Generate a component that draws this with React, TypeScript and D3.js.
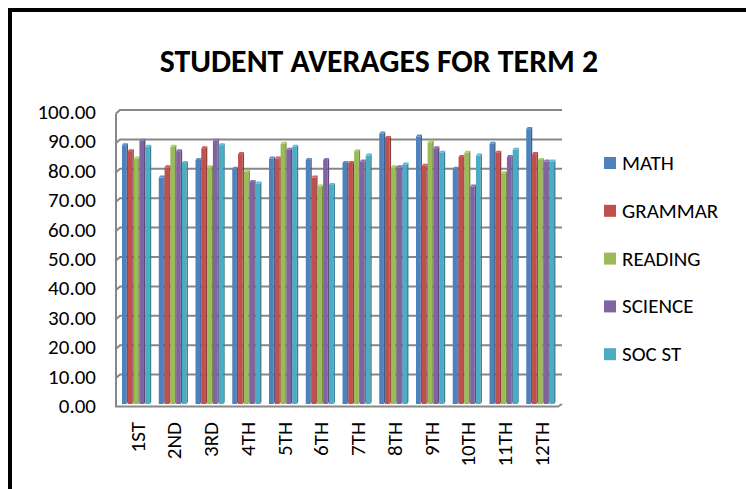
import * as d3 from 'd3'
import { useEffect, useRef } from 'react'

const categories = ['1ST', '2ND', '3RD', '4TH', '5TH', '6TH', '7TH', '8TH', '9TH', '10TH', '11TH', '12TH']
const series = ['MATH', 'GRAMMAR', 'READING', 'SCIENCE', 'SOC ST']
const colors = ['#4F81BD', '#C0504D', '#9BBB59', '#8064A2', '#4BACC6']

const math = [88, 77, 83, 80, 83.5, 83, 82, 92, 91, 80, 88.5, 93.5]
const grammar = [86, 80.5, 87, 85, 83.5, 77, 82, 90.5, 81, 84, 85.5, 85]
const reading = [83.5, 87.5, 80.5, 79, 88.5, 74, 86, 80.5, 89, 85.5, 78.5, 83]
const science = [89.5, 86, 89.5, 75.5, 86.5, 83, 82.5, 80.5, 87, 74, 84, 82.5]
const socSt = [87.5, 82, 88, 75, 87.5, 74.5, 84.5, 81.5, 85.5, 84.5, 86.5, 82.5]
const values = [math, grammar, reading, science, socSt]

const yTicks = [0, 10, 20, 30, 40, 50, 60, 70, 80, 90, 100]

const width = 746, height = 489
const font = 'Carlito, Calibri, Lato, sans-serif'

const chart = (svgNode: SVGSVGElement) => {
  const svg = d3.select(svgNode)
  svg.selectAll('*').remove()

  const y = d3.scaleLinear().domain([0, 100]).range([404, 110])
  const x = d3.scaleBand().domain(categories).range([118, 559])
  const xs = d3.scaleBand().domain(series).range([4, 33])

  svg.append('rect').attr('width', width).attr('height', height).attr('fill', '#fff')
  // chart area outline (only top/left visible)
  svg.append('rect')
    .attr('x', 10).attr('y', 10).attr('width', width + 20).attr('height', height + 20)
    .attr('fill', 'none').attr('stroke', '#000').attr('stroke-width', 4)

  svg.append('text')
    .attr('x', 379).attr('y', 72)
    .attr('text-anchor', 'middle')
    .attr('font-family', font).attr('font-weight', 'bold').attr('font-size', 31.8)
    .text('STUDENT AVERAGES FOR TERM 2')

  // walls / gridlines
  const grid = svg.append('g').attr('fill', 'none').attr('stroke', '#878787').attr('stroke-width', 2)
  yTicks.forEach(t => {
    if (t === 0) return
    grid.append('path').attr('d', `M116,${y(t) + 3.5}L120,${y(t)}H562`)
  })
  grid.append('path').attr('d', `M116,${y(100) + 3.5}V${y(0) + 2.5}H558L562,${y(0)}`)

  svg.append('g')
    .attr('font-family', font).attr('font-size', 21).attr('text-anchor', 'end')
    .selectAll('text').data(yTicks).join('text')
    .attr('x', 96).attr('y', d => y(d) + 2)
    .attr('dominant-baseline', 'central')
    .text(d => d.toFixed(2))

  // bars
  const fw = 4.6, dx = 1.4, dy = 2
  series.forEach((s, si) => {
    const c = d3.color(colors[si])!
    const g = svg.append('g')
    values[si].forEach((v, ci) => {
      const x0 = x(categories[ci])! + xs(s)!
      const y0 = y(v), yb = y(0)
      g.append('rect').attr('x', x0).attr('y', y0).attr('width', fw).attr('height', yb - y0).attr('fill', colors[si])
      g.append('path')
        .attr('d', `M${x0 + fw},${y0}L${x0 + fw + dx},${y0 - dy}V${yb - dy}L${x0 + fw},${yb}Z`)
        .attr('fill', c.darker(0.8).toString())
      g.append('path')
        .attr('d', `M${x0},${y0}L${x0 + dx},${y0 - dy}H${x0 + fw + dx}L${x0 + fw},${y0}Z`)
        .attr('fill', c.brighter(0.3).toString())
    })
  })

  // category labels
  svg.append('g')
    .attr('font-family', font).attr('font-size', 21)
    .selectAll('text').data(categories).join('text')
    .attr('transform', d => `translate(${x(d)! + 19.5},422) rotate(-90)`)
    .attr('text-anchor', 'end')
    .attr('dominant-baseline', 'central')
    .text(d => d)

  // legend
  const legend = svg.append('g').attr('font-family', font).attr('font-size', 21)
  series.forEach((s, i) => {
    const ly = 163 + i * 47.8
    legend.append('rect').attr('x', 604).attr('y', ly - 6).attr('width', 12).attr('height', 12).attr('fill', colors[i])
    legend.append('text').attr('x', 622).attr('y', ly).attr('dominant-baseline', 'central').text(s)
  })

  return svg.node()
}

export default function App() {
  const ref = useRef<SVGSVGElement>(null)
  useEffect(() => {
    if (ref.current) chart(ref.current)
  }, [])
  return (
    <svg ref={ref} width={width} height={height}
      style={{ position: 'absolute', left: 0, top: 0 }} />
  )
}
